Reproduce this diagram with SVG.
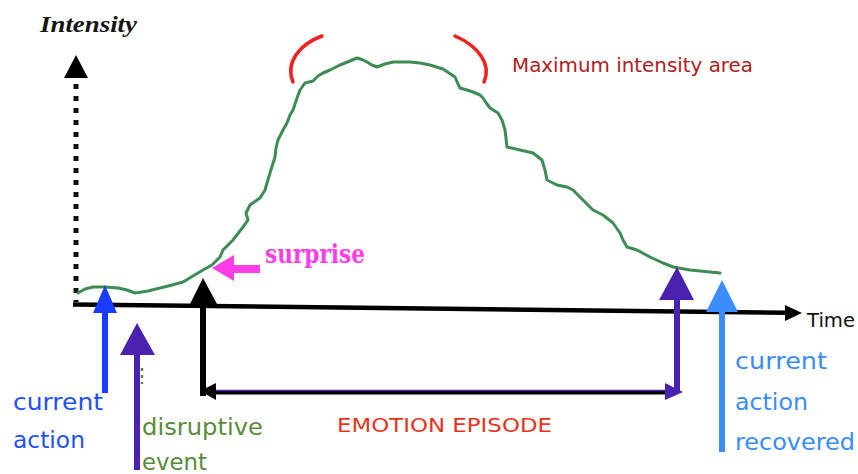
<svg xmlns="http://www.w3.org/2000/svg" width="858" height="474" viewBox="0 0 858 474">
<defs>
<style>
.hand{font-family:"Comic Sans MS","DejaVu Sans",sans-serif;}
.curve{fill:none;stroke:#3d8c55;stroke-width:3;stroke-linejoin:round;stroke-linecap:round;}
.arc{fill:none;stroke:#ee2222;stroke-width:3.5;stroke-linecap:round;}
.shaft{stroke-width:6;fill:none;}
</style>
</defs>
<rect width="858" height="474" fill="#ffffff"/>

<g id="intensity-axis">
<text x="40" y="32" font-family="'Liberation Serif','DejaVu Serif',serif" font-weight="bold" font-style="italic" font-size="24" fill="#151515" textLength="97" lengthAdjust="spacingAndGlyphs">Intensity</text>
<line x1="76" y1="84" x2="76" y2="302" stroke="#111" stroke-width="5" stroke-dasharray="5 7"/>
<polygon points="76,55 64,78 88,78" fill="#000"/>
</g>

<g id="time-axis">
<line x1="73" y1="304.5" x2="788" y2="312.8" stroke="#000" stroke-width="4.5"/>
<polygon points="802,313 785,305 785,321" fill="#000"/>
<text class="hand" x="807" y="327" font-size="20" fill="#111" textLength="48" lengthAdjust="spacingAndGlyphs">Time</text>
</g>

<g id="intensity-curve">
<polyline class="curve" points="78,293 85,289 93,287 105,287 118,288 127,290 135,293 148,291 160,288 172,285 183,282 193,276 203,270 212,265 220,257 223,250 233,240 243,227 248,220 246,213 250,205 260,198 265,190 267,183 270,173 275,157 276,148 278,140 283,130 287,123 290,115 293,110 297,98 300,90 305,83 313,81 318,76 323,73 330,70 340,65 350,61 357,58 363,60 367,62 372,65 377,67 385,64 393,62 410,62 420,63 430,65 443,69 455,77 458,84 460,88 467,90 473,92 480,95 483,98 487,104 490,108 498,113 502,120 505,130 507,147 520,150 533,153 542,160 545,170 547,180 557,185 567,187 573,190 578,195 583,200 593,210 603,215 613,223 620,233 623,240 627,247 637,250 650,257 663,263 673,267 690,270 720,273"/>
</g>

<g id="maximum-area">
<path class="arc" d="M322,36 C300,44 285,62 293,82"/>
<path class="arc" d="M455,36 C478,46 492,64 484,82"/>
<text class="hand" x="512" y="72" font-size="19" fill="#b02020" textLength="241" lengthAdjust="spacingAndGlyphs">Maximum intensity area</text>
</g>

<g id="surprise">
<text x="265" y="263" font-family="'DejaVu Serif',serif" font-weight="bold" font-size="26" fill="#ff3ee8" textLength="100" lengthAdjust="spacingAndGlyphs">surprise</text>
</g>

<g id="connectors">
<!-- surprise arrow -->
<line x1="260" y1="269" x2="230" y2="269" stroke="#ff3ee8" stroke-width="8"/>
<polygon points="212,268 234,255 234,281" fill="#ff3ee8"/>

<!-- current action -->
<line class="shaft" x1="105" y1="393" x2="105" y2="305" stroke="#1a3cff"/>
<polygon points="105,285 93,313 117,313" fill="#1a3cff"/>

<!-- disruptive event -->
<line class="shaft" x1="137" y1="470" x2="137" y2="350" stroke="#4b22b0"/>
<polygon points="137,323 120,355 155,355" fill="#4b22b0"/>
<line x1="142" y1="368" x2="142" y2="384" stroke="#5a8a3a" stroke-width="2.5" stroke-dasharray="3 4"/>

<!-- episode start (black) -->
<line class="shaft" x1="203" y1="396" x2="203" y2="298" stroke="#000"/>
<polygon points="203,278 190,304 217,304" fill="#000"/>

<!-- episode span -->
<line x1="210" y1="392.5" x2="668" y2="392.5" stroke="#000" stroke-width="4"/>
<line x1="210" y1="390.5" x2="668" y2="390.5" stroke="#4b22b0" stroke-width="1.5"/>
<polygon points="200,391 216,383 216,400" fill="#000"/>
<polygon points="683,392 665,383 665,400" fill="#4b22b0"/>

<!-- episode end (purple) -->
<line class="shaft" x1="677" y1="392" x2="677" y2="295" stroke="#4b22b0"/>
<polygon points="677,267 659,300 694,300" fill="#4b22b0"/>

<!-- current action recovered -->
<line class="shaft" x1="722" y1="452" x2="722" y2="305" stroke="#3b8cff"/>
<polygon points="722,280 706,312 738,312" fill="#3b8cff"/>
</g>

<g id="label-current-action">
<text class="hand" x="13" y="410" font-size="23" fill="#1e50ff" textLength="90" lengthAdjust="spacingAndGlyphs">current</text>
<text class="hand" x="13" y="448" font-size="23" fill="#1e50ff" textLength="72" lengthAdjust="spacingAndGlyphs">action</text>
</g>

<g id="label-disruptive-event">
<text class="hand" x="142" y="435" font-size="23" fill="#5a8a3a" textLength="121" lengthAdjust="spacingAndGlyphs">disruptive</text>
<text class="hand" x="142" y="470" font-size="23" fill="#5a8a3a" textLength="65" lengthAdjust="spacingAndGlyphs">event</text>
</g>

<g id="label-emotion-episode">
<text class="hand" x="337" y="432" font-size="20" fill="#e8331c" textLength="215" lengthAdjust="spacingAndGlyphs">EMOTION EPISODE</text>
</g>

<g id="label-recovered">
<text class="hand" x="735" y="369" font-size="23" fill="#3b8cff" textLength="92" lengthAdjust="spacingAndGlyphs">current</text>
<text class="hand" x="735" y="410" font-size="23" fill="#3b8cff" textLength="73" lengthAdjust="spacingAndGlyphs">action</text>
<text class="hand" x="735" y="450" font-size="23" fill="#3b8cff" textLength="120" lengthAdjust="spacingAndGlyphs">recovered</text>
</g>
</svg>
